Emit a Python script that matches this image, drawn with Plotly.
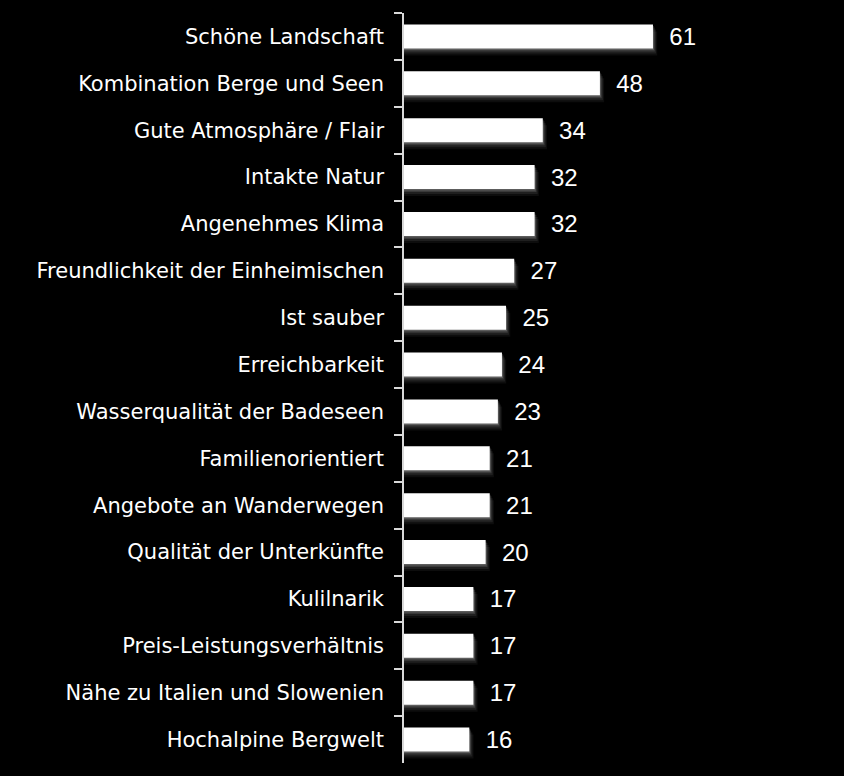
import plotly.graph_objects as go

categories = [
    "Schöne Landschaft",
    "Kombination Berge und Seen",
    "Gute Atmosphäre / Flair",
    "Intakte Natur",
    "Angenehmes Klima",
    "Freundlichkeit der Einheimischen",
    "Ist sauber",
    "Erreichbarkeit",
    "Wasserqualität der Badeseen",
    "Familienorientiert",
    "Angebote an Wanderwegen",
    "Qualität der Unterkünfte",
    "Kulilnarik",
    "Preis-Leistungsverhältnis",
    "Nähe zu Italien und Slowenien",
    "Hochalpine Bergwelt",
]
values = [61, 48, 34, 32, 32, 27, 25, 24, 23, 21, 21, 20, 17, 17, 17, 16]

PX_PER_ROW = 750 / 16
BAR_W = 24 / PX_PER_ROW
X_MAX = 107.8
PX_PER_UNIT = 440 / X_MAX

fig = go.Figure()

# soft shadow layers (below/right of each bar)
for dpx, col in [(7, "rgba(255,255,255,0.05)"), (5, "rgba(255,255,255,0.08)"),
                 (3, "rgba(255,255,255,0.12)"), (1.5, "rgba(255,255,255,0.18)")]:
    fig.add_trace(go.Bar(
        y=categories,
        x=[v + dpx * 0.6 / PX_PER_UNIT for v in values],
        orientation="h",
        width=BAR_W,
        offset=-BAR_W / 2 + dpx / PX_PER_ROW,
        marker=dict(color=col, line=dict(width=0)),
        hoverinfo="skip",
        showlegend=False,
    ))

fig.add_trace(go.Bar(
    y=categories,
    x=values,
    orientation="h",
    width=BAR_W,
    marker=dict(color="#ffffff", line=dict(width=0)),
    text=[f"\u00a0\u00a0{v}" for v in values],
    textposition="outside",
    constraintext="none",
    textfont=dict(family="Liberation Sans, Arial", size=24, color="#ffffff"),
    cliponaxis=False,
    showlegend=False,
))

fig.update_layout(
    width=844,
    height=776,
    margin=dict(l=404, r=0, t=13, b=13),
    paper_bgcolor="#000000",
    plot_bgcolor="#000000",
    barmode="overlay",
    xaxis=dict(
        range=[0, X_MAX],
        visible=False,
        showgrid=False,
        zeroline=False,
    ),
    yaxis=dict(
        type="category",
        autorange="reversed",
        showline=True,
        linecolor="#d9d9d9",
        linewidth=1.5,
        ticks="outside",
        ticklen=8,
        tickwidth=1.5,
        tickcolor="#d9d9d9",
        tickson="boundaries",
        showgrid=False,
        zeroline=False,
        ticklabelstandoff=14,
        tickfont=dict(family="DejaVu Sans, Verdana", size=21, color="#ffffff"),
    ),
)

fig.write_html("out.html")
